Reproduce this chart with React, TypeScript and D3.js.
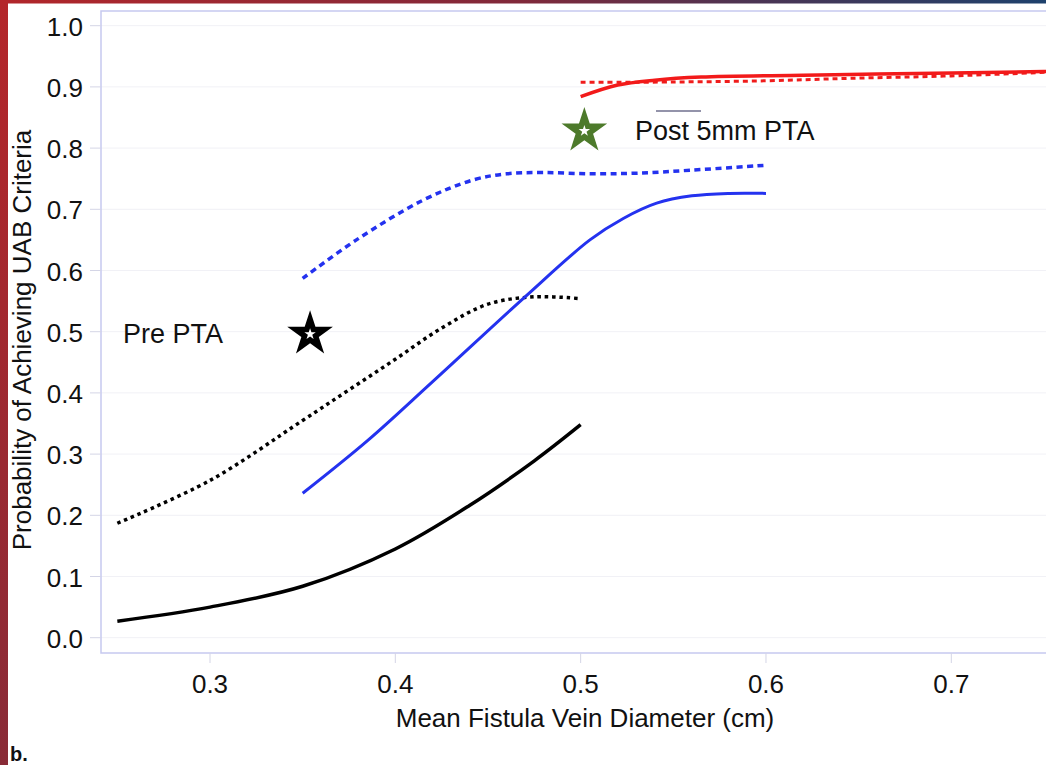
import React, { useRef, useEffect } from 'react';
import * as d3 from 'd3';

// axis ticks
const xTicks = [0.3, 0.4, 0.5, 0.6, 0.7];
const yTicks = [0, 0.1, 0.2, 0.3, 0.4, 0.5, 0.6, 0.7, 0.8, 0.9, 1.0];

// pre PTA (black)
const preSolidX = [0.25, 0.30, 0.35, 0.40, 0.44, 0.475, 0.50];
const preSolidY = [0.027, 0.050, 0.084, 0.145, 0.216, 0.289, 0.348];
const preDotX = [0.25, 0.30, 0.35, 0.375, 0.40, 0.425, 0.45, 0.475, 0.50];
const preDotY = [0.187, 0.257, 0.355, 0.405, 0.455, 0.506, 0.545, 0.557, 0.554];

// post PTA (blue)
const postSolidX = [0.35, 0.385, 0.42, 0.47, 0.505, 0.523, 0.541, 0.56, 0.58, 0.60];
const postSolidY = [0.236, 0.322, 0.418, 0.557, 0.650, 0.685, 0.710, 0.722, 0.726, 0.726];
const postDotX = [0.35, 0.379, 0.415, 0.442, 0.46, 0.48, 0.505, 0.53, 0.56, 0.60];
const postDotY = [0.587, 0.650, 0.715, 0.748, 0.758, 0.760, 0.758, 0.759, 0.764, 0.772];

// post 5mm PTA (red)
const post5SolidX = [0.50, 0.52, 0.54, 0.565, 0.62, 0.66, 0.75, 0.76];
const post5SolidY = [0.884, 0.903, 0.911, 0.916, 0.919, 0.921, 0.925, 0.926];
const post5DotX = [0.50, 0.55, 0.60, 0.645, 0.70, 0.76];
const post5DotY = [0.9075, 0.908, 0.910, 0.914, 0.918, 0.925];

// star markers
const starNames = ['Pre PTA', 'Post 5mm PTA'];
const starX = [0.354, 0.502];
const starY = [0.496, 0.828];
const starColors = ['#000000', '#4d7a2b'];

const W = 1046;
const H = 765;
const FONT = '"Liberation Sans", Arial, Helvetica, sans-serif';

const App = () => {
    const ref = useRef(null);

    useEffect(() => {
        if (!ref.current) return;
        const svg = d3.select(ref.current);
        svg.selectAll('*').remove();

        // frame of the plot
        const left = 101, top = 11, bottom = 653, right = W;
        const x = d3.scaleLinear().domain([0.3, 0.7]).range([210, 951.3]);
        const y = d3.scaleLinear().domain([0, 1]).range([637.7, 25.7]);

        svg.append('rect').attr('width', W).attr('height', H).attr('fill', '#fff');

        // the coloured border of the slide
        const defs = svg.append('defs');
        const gTop = defs.append('linearGradient').attr('id', 'topbar');
        gTop.append('stop').attr('offset', '0%').attr('stop-color', '#b2262a');
        gTop.append('stop').attr('offset', '50%').attr('stop-color', '#80293a');
        gTop.append('stop').attr('offset', '72%').attr('stop-color', '#4b3453');
        gTop.append('stop').attr('offset', '100%').attr('stop-color', '#1e416c');
        const gLeft = defs.append('linearGradient').attr('id', 'leftbar')
            .attr('x1', 0).attr('y1', 0).attr('x2', 0).attr('y2', 1);
        gLeft.append('stop').attr('offset', '0%').attr('stop-color', '#b4262a');
        gLeft.append('stop').attr('offset', '100%').attr('stop-color', '#892b37');
        defs.append('clipPath').attr('id', 'plotclip')
            .append('rect').attr('x', left).attr('y', top).attr('width', right - left).attr('height', bottom - top);

        svg.append('rect').attr('x', 0).attr('y', 0).attr('width', W).attr('height', 3.5).attr('fill', 'url(#topbar)');
        svg.append('rect').attr('x', 0).attr('y', 0).attr('width', 8).attr('height', H).attr('fill', 'url(#leftbar)');

        // faint grid
        svg.append('g').selectAll('line').data(yTicks).enter().append('line')
            .attr('x1', left).attr('x2', right)
            .attr('y1', d => y(d)).attr('y2', d => y(d))
            .attr('stroke', '#f1f1f6').attr('stroke-width', 1);

        // frame lines
        svg.append('path')
            .attr('d', `M${right},${top}H${left}V${bottom}H${right}`)
            .attr('fill', 'none').attr('stroke', '#c6c9ef').attr('stroke-width', 1.5);

        // y axis
        const yAxis = svg.append('g');
        yAxis.selectAll('line').data(yTicks).enter().append('line')
            .attr('x1', 90).attr('x2', left)
            .attr('y1', d => y(d)).attr('y2', d => y(d))
            .attr('stroke', '#d4d5e6').attr('stroke-width', 1);
        yAxis.selectAll('text').data(yTicks).enter().append('text')
            .attr('x', 83).attr('y', d => y(d) + 10)
            .attr('text-anchor', 'end')
            .style('font-family', FONT).style('font-size', '26px').attr('fill', '#111')
            .text(d => d3.format('.1f')(d));

        // x axis
        const xAxis = svg.append('g');
        xAxis.selectAll('line').data(xTicks).enter().append('line')
            .attr('x1', d => x(d)).attr('x2', d => x(d))
            .attr('y1', bottom).attr('y2', 663)
            .attr('stroke', '#d4d5e6').attr('stroke-width', 1);
        xAxis.selectAll('text').data(xTicks).enter().append('text')
            .attr('x', d => x(d)).attr('y', 693)
            .attr('text-anchor', 'middle')
            .style('font-family', FONT).style('font-size', '26px').attr('fill', '#111')
            .text(d => d3.format('.1f')(d));

        svg.append('text')
            .attr('x', 585).attr('y', 727)
            .attr('text-anchor', 'middle')
            .style('font-family', FONT).style('font-size', '26px').attr('fill', '#111')
            .text('Mean Fistula Vein Diameter (cm)');

        svg.append('text')
            .attr('transform', 'translate(31,340) rotate(-90)')
            .attr('text-anchor', 'middle')
            .style('font-family', FONT).style('font-size', '26px').attr('fill', '#111')
            .text('Probability of Achieving UAB Criteria');

        // curves
        const line = d3.line().x(d => x(d[0])).y(d => y(d[1])).curve(d3.curveCatmullRom.alpha(0.5));
        const zip = (xs, ys) => xs.map((v, i) => [v, ys[i]]);
        const series = [
            { pts: zip(preDotX, preDotY), color: '#000', w: 3.5, dash: '3.5 3.8' },
            { pts: zip(preSolidX, preSolidY), color: '#000', w: 3.5, dash: null },
            { pts: zip(postDotX, postDotY), color: '#2432ef', w: 3.5, dash: '6 4.5' },
            { pts: zip(postSolidX, postSolidY), color: '#2432ef', w: 3, dash: null },
            { pts: zip(post5DotX, post5DotY), color: '#f01c1c', w: 3, dash: '5 4' },
            { pts: zip(post5SolidX, post5SolidY), color: '#f21a1a', w: 3.5, dash: null },
        ];
        const curves = svg.append('g').attr('clip-path', 'url(#plotclip)');
        series.forEach(s => {
            curves.append('path')
                .attr('d', line(s.pts))
                .attr('fill', 'none')
                .attr('stroke', s.color)
                .attr('stroke-width', s.w)
                .attr('stroke-dasharray', s.dash);
        });

        // stars
        const bigStar = d3.symbol(d3.symbolStar, 24 * 24 / 0.8908);
        const smallStar = d3.symbol(d3.symbolStar, 6 * 6 / 0.8908);
        starX.forEach((sx, i) => {
            const g = svg.append('g').attr('transform', `translate(${x(sx)},${y(starY[i])})`);
            g.append('path').attr('d', bigStar()).attr('fill', starColors[i]);
            g.append('path').attr('d', smallStar()).attr('fill', '#fff');
        });

        // labels
        svg.append('text')
            .attr('x', 123).attr('y', 343)
            .style('font-family', FONT).style('font-size', '27px').attr('fill', '#111')
            .text(starNames[0]);
        svg.append('text')
            .attr('x', 635).attr('y', 140)
            .style('font-family', FONT).style('font-size', '27px').attr('fill', '#111')
            .text(starNames[1]);
        svg.append('line')
            .attr('x1', 656).attr('x2', 701).attr('y1', 111).attr('y2', 111)
            .attr('stroke', '#6f6f8e').attr('stroke-width', 1.5);

        svg.append('text')
            .attr('x', 10).attr('y', 761)
            .style('font-family', FONT).style('font-size', '20px').style('font-weight', 'bold').attr('fill', '#111')
            .text('b.');
    }, []);

    return (
        <svg ref={ref} width={W} height={H}
            style={{ position: 'absolute', left: 0, top: 0, display: 'block' }} />
    );
};

export default App;
